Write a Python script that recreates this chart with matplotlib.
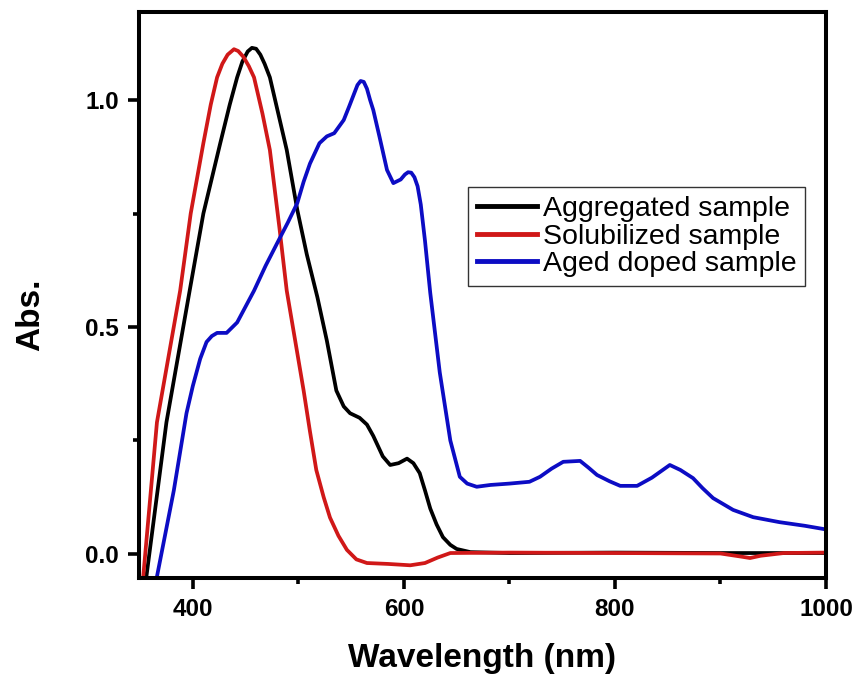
import matplotlib
matplotlib.use('Agg')
import matplotlib.pyplot as plt
from matplotlib.ticker import MultipleLocator

plt.rcParams['font.family'] = ['Liberation Sans', 'DejaVu Sans']

# UV-vis-NIR absorbance spectra
wl_agg = [356, 375, 397, 410, 426, 435, 442, 447, 452, 456, 460, 464, 468, 473, 481, 489, 499,
          508, 518, 527, 536, 543, 549, 558, 565, 571, 580, 587, 595, 603, 609, 615, 620, 625,
          631, 637, 644, 650, 663, 700, 800, 900, 1000]
abs_agg = [-0.05, 0.29, 0.58, 0.75, 0.905, 0.99, 1.05, 1.085, 1.107, 1.115, 1.113, 1.10, 1.08,
           1.05, 0.97, 0.89, 0.758, 0.66, 0.566, 0.47, 0.36, 0.325, 0.31, 0.30, 0.285, 0.26,
           0.215, 0.196, 0.20, 0.21, 0.20, 0.178, 0.14, 0.10, 0.065, 0.037, 0.02, 0.011, 0.004,
           0.002, 0.003, 0.002, 0.002]

wl_sol = [353, 366, 388, 398, 410, 417, 423, 428, 433, 439, 443, 448, 453, 458, 466, 473, 482,
          489, 497, 505, 511, 517, 524, 530, 538, 546, 555, 565, 585, 606, 620, 632, 644, 700,
          800, 900, 920, 928, 938, 960, 1000]
abs_sol = [-0.05, 0.29, 0.58, 0.75, 0.905, 0.99, 1.05, 1.08, 1.10, 1.112, 1.108, 1.095, 1.075,
           1.05, 0.97, 0.89, 0.72, 0.58, 0.47, 0.36, 0.27, 0.185, 0.125, 0.08, 0.04, 0.009,
           -0.012, -0.02, -0.022, -0.025, -0.02, -0.008, 0.002, 0.003, 0.002, 0.001, -0.006,
           -0.009, -0.004, 0.002, 0.003]

wl_aged = [366, 382, 394, 400, 407, 413, 418, 423, 432, 442, 450, 458, 469, 480, 490, 499,
           505, 511, 520, 527, 534, 543, 548, 553, 556, 559, 562, 565, 568, 571, 577, 584, 590,
           597, 601, 604, 607, 610, 613, 616, 620, 625, 634, 644, 653, 660, 669, 682, 700, 719,
           729, 740, 751, 767, 775, 783, 795, 805, 821, 835, 852, 862, 874, 883, 893, 912, 931,
           956, 980, 1000]
abs_aged = [-0.05, 0.14, 0.31, 0.37, 0.43, 0.467, 0.48, 0.487, 0.487, 0.51, 0.545, 0.58, 0.635,
            0.685, 0.73, 0.773, 0.82, 0.86, 0.905, 0.92, 0.927, 0.956, 0.985, 1.015, 1.033,
            1.042, 1.04, 1.025, 1.0, 0.978, 0.918, 0.846, 0.817, 0.825, 0.836, 0.841, 0.84, 0.83,
            0.81, 0.77, 0.69, 0.575, 0.40, 0.25, 0.17, 0.155, 0.148, 0.152, 0.155, 0.159, 0.17,
            0.188, 0.203, 0.205, 0.19, 0.174, 0.16, 0.15, 0.15, 0.168, 0.196, 0.185, 0.167,
            0.145, 0.123, 0.097, 0.081, 0.07, 0.062, 0.054]

labels = ['Aggregated sample', 'Solubilized sample', 'Aged doped sample']
colors = ['#000000', '#d01818', '#0c0cc4']

fig = plt.figure(figsize=(8.58, 6.81), dpi=100)
ax = fig.add_axes([139 / 858, 1 - 578 / 681, (826 - 139) / 858, (578 - 12) / 681])

for wl, a, lab, c in zip([wl_agg, wl_sol, wl_aged], [abs_agg, abs_sol, abs_aged], labels, colors):
    ax.plot(wl, a, color=c, lw=2.7, label=lab, solid_joinstyle='round')

ax.set_xlim(349, 1000)
ax.set_ylim(-0.053, 1.194)
ax.xaxis.set_major_locator(MultipleLocator(200))
ax.xaxis.set_minor_locator(MultipleLocator(100))
ax.yaxis.set_major_locator(MultipleLocator(0.5))
ax.yaxis.set_minor_locator(MultipleLocator(0.25))

for s in ax.spines.values():
    s.set_linewidth(2.9)
ax.tick_params(which='major', direction='out', length=8, width=2.6, labelsize=17.5, pad=6.5)
ax.tick_params(which='minor', direction='out', length=4.5, width=2.6)
for t in ax.get_xticklabels() + ax.get_yticklabels():
    t.set_fontweight('bold')

ax.set_xlabel('Wavelength (nm)', fontsize=24, fontweight='bold', va='top')
ax.xaxis.set_label_coords(0.5, -0.115)
ax.set_ylabel('Abs.', fontsize=24, fontweight='bold')
ax.yaxis.set_label_coords(-0.135, 0.465)

leg = ax.legend(loc='upper left', bbox_to_anchor=((468 - 139) / 687, 1 - (187 - 12) / 566),
                fontsize=20.5, frameon=True, fancybox=False, handlelength=2.1,
                handletextpad=0.2, labelspacing=0.05, borderpad=0.32, borderaxespad=0)
leg.get_frame().set_edgecolor('black')
leg.get_frame().set_linewidth(1.0)
for h in leg.get_lines():
    h.set_linewidth(3.5)

fig.savefig('out.png', dpi=100)
